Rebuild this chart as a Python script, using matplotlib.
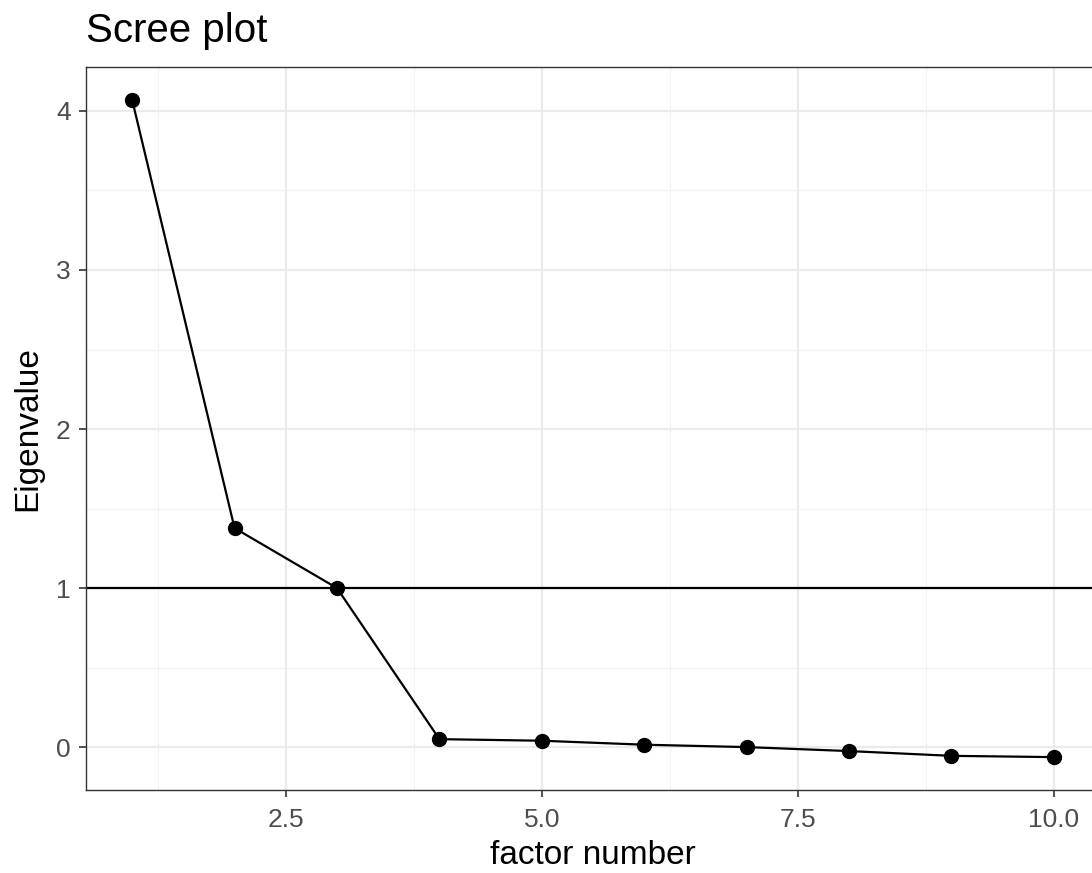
import matplotlib.pyplot as plt
import numpy as np
from matplotlib.ticker import MultipleLocator

plt.rcParams['font.family'] = ['Liberation Sans', 'DejaVu Sans']

factor_number = [1, 2, 3, 4, 5, 6, 7, 8, 9, 10]
eigenvalues = [4.07, 1.377, 1.0, 0.05, 0.04, 0.015, 0.0, -0.025, -0.055, -0.063]

fig = plt.figure(figsize=(10.92, 8.73), dpi=100)
ax = fig.add_axes([0.0788, 0.0951, 0.9285, 0.8282])

# ggplot style expansion
xmin, xmax = min(factor_number), max(factor_number)
ymin, ymax = min(eigenvalues), max(eigenvalues)
ax.set_xlim(xmin - 0.05 * (xmax - xmin), xmax + 0.05 * (xmax - xmin))
ax.set_ylim(ymin - 0.05 * (ymax - ymin), ymax + 0.05 * (ymax - ymin))

ax.xaxis.set_major_locator(MultipleLocator(2.5))
ax.xaxis.set_minor_locator(MultipleLocator(1.25))
ax.yaxis.set_major_locator(MultipleLocator(1))
ax.yaxis.set_minor_locator(MultipleLocator(0.5))
ax.set_xticks([2.5, 5.0, 7.5, 10.0])
ax.set_xticklabels(['2.5', '5.0', '7.5', '10.0'])

ax.grid(which='major', color='#EBEBEB', linewidth=1.6)
ax.grid(which='minor', color='#F2F2F2', linewidth=0.9)
ax.set_axisbelow(True)

ax.tick_params(which='minor', length=0)
ax.tick_params(which='major', length=5, width=1.2, color='#333333',
               labelsize=19, labelcolor='#4D4D4D')
ax.tick_params(axis='x', pad=8)
ax.tick_params(axis='y', pad=6)

for s in ax.spines.values():
    s.set_color('#333333')
    s.set_linewidth(1.0)
ax.spines['right'].set_visible(False)

ax.axhline(1, color='black', linewidth=1.6, zorder=2)
ax.plot(factor_number, eigenvalues, color='black', linewidth=1.6,
        marker='o', markersize=10, zorder=3)

ax.set_xlabel('factor number', fontsize=24, labelpad=6)
ax.set_ylabel('Eigenvalue', fontsize=24, labelpad=9)
ax.set_title('Scree plot', fontsize=29, loc='left', pad=18)

plt.savefig('out.png', dpi=100)
